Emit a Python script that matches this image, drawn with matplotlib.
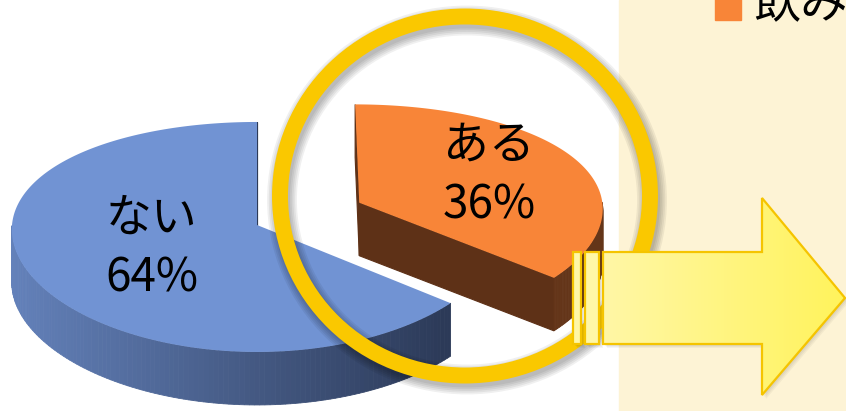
import numpy as np
import matplotlib.pyplot as plt
from matplotlib.patches import Polygon, Rectangle, Ellipse

plt.rcParams['font.family'] = ['Noto Sans CJK JP', 'DejaVu Sans']

# slices, clockwise from 12 o'clock
categories = ['ある', 'ない']
shares = [36, 64]
explode = [0.465, 0.0]
label_r = [0.6, 0.47]
legend_label = '飲み'

top_colors = ['#F88538', '#7193D3']
side_colors = [('#6A381B', '#5E3117'), ('#6381BA', '#2C3A58')]

# pie geometry in pixels
cx, cy = 257, 225
a, b = 245, 115
kx, ky = 0.04, 0.104
depth = 53


def proj(u, v, drop=0.0):
    return cx + a * u * (1 - kx * v), cy - b * v * (1 - ky * v) + drop


def mix(c1, c2, t):
    c1 = np.array(plt.matplotlib.colors.to_rgb(c1))
    c2 = np.array(plt.matplotlib.colors.to_rgb(c2))
    return tuple(c1 + (c2 - c1) * t)


fig = plt.figure(figsize=(8.46, 4.11), dpi=100)
ax = fig.add_axes([0, 0, 1, 1])
ax.set_xlim(0, 846)
ax.set_ylim(411, 0)
ax.axis('off')

# right-hand panel
ax.add_patch(Rectangle((619, 0), 227, 411, color='#FDF3D5', zorder=0))

bounds = np.cumsum([0] + shares) / sum(shares) * 360
for i, cat in enumerate(categories):
    t0, t1 = bounds[i], bounds[i + 1]
    tm = np.radians((t0 + t1) / 2)
    ou, ov = explode[i] * np.sin(tm), explode[i] * np.cos(tm)
    z = 2 + i * 3

    ts = np.radians(np.linspace(t0, t1, 200))
    rim_top = [proj(ou + np.sin(t), ov + np.cos(t)) for t in ts]
    rim_bot = [proj(ou + np.sin(t), ov + np.cos(t), depth) for t in ts]

    # cut faces
    for edge, normal in ((t0, t0 - 90), (t1, t1 + 90)):
        if np.cos(np.radians(normal)) <= 1e-6:
            er = np.radians(edge)
            eu, ev = ou + np.sin(er), ov + np.cos(er)
            face = [proj(ou, ov), proj(eu, ev), proj(eu, ev, depth), proj(ou, ov, depth)]
            ax.add_patch(Polygon(face, closed=True, facecolor=side_colors[i][1],
                                 edgecolor=side_colors[i][1], lw=0.8, zorder=z))

    # outer wall, front half only
    for j in range(len(ts) - 1):
        if np.cos((ts[j] + ts[j + 1]) / 2) < 0:
            quad = [rim_top[j], rim_top[j + 1], rim_bot[j + 1], rim_bot[j]]
            frac = (rim_top[j][0] - 12) / (446 - 12) if i == 1 else 0.5
            col = mix(side_colors[i][0], side_colors[i][1], np.clip(frac, 0, 1))
            ax.add_patch(Polygon(quad, closed=True, facecolor=col, edgecolor=col,
                                 lw=0.6, zorder=z))

    # top face
    ax.add_patch(Polygon([proj(ou, ov)] + rim_top, closed=True,
                         facecolor=top_colors[i], edgecolor='none', zorder=z + 1))

    # label
    lu, lv = ou + label_r[i] * np.sin(tm), ov + label_r[i] * np.cos(tm)
    lx, ly = proj(lu, lv)
    ax.text(lx, ly - 30, cat, fontsize=33, ha='center', va='center', zorder=z + 2)
    ax.text(lx, ly + 30, f'{shares[i]}%', fontsize=33, ha='center', va='center',
            zorder=z + 2)

# highlight ring with a soft drop shadow
ring_c, ring_w, ring_h = (465, 196), 370, 359
for s in range(5):
    ax.add_patch(Ellipse((ring_c[0] + 2, ring_c[1] + 4), ring_w, ring_h, fill=False,
                         edgecolor='black', alpha=0.06, lw=11.5 + 2.5 * s, zorder=10))
ax.add_patch(Ellipse(ring_c, ring_w, ring_h, fill=False, edgecolor='#FAC800',
                     lw=11.5, zorder=11))

# arrow with two slim bars in front of it
arrow_pts = [(603, 252), (762, 252), (762, 198), (845, 298), (762, 395),
             (762, 344), (603, 344)]
bars = [(573, 252, 8, 92), (585, 252, 14, 92)]

for dx in range(1, 5):
    ax.add_patch(Polygon([(x + dx, y + dx) for x, y in arrow_pts], closed=True,
                         facecolor='black', alpha=0.04, edgecolor='none', zorder=12))
    for (x, y, w, h) in bars:
        ax.add_patch(Rectangle((x + dx, y + dx), w, h, facecolor='black', alpha=0.04,
                               edgecolor='none', zorder=12))

grad = np.linspace(0, 1, 256).reshape(1, -1)
cmap = plt.matplotlib.colors.LinearSegmentedColormap.from_list('arr', ['#FFF7A6', '#FFF35C'])
arrow_patch = Polygon(arrow_pts, closed=True, facecolor='none', edgecolor='#F5C400',
                      lw=1.6, zorder=14)
ax.add_patch(arrow_patch)
img = ax.imshow(grad, cmap=cmap, extent=(603, 845, 395, 198), aspect='auto', zorder=13)
img.set_clip_path(arrow_patch)
for (x, y, w, h) in bars:
    ax.add_patch(Rectangle((x, y), w, h, facecolor='#FFF7A6', edgecolor='#F5C400',
                           lw=1.6, zorder=14))
ax.set_xlim(0, 846)
ax.set_ylim(411, 0)

# legend entry, partly cut by the top edge
ax.add_patch(Rectangle((715, -6), 26, 26, color=top_colors[0], zorder=15))
ax.text(753, 5, legend_label, fontsize=34, ha='left', va='center', zorder=15)

fig.savefig('out.png', dpi=100)
